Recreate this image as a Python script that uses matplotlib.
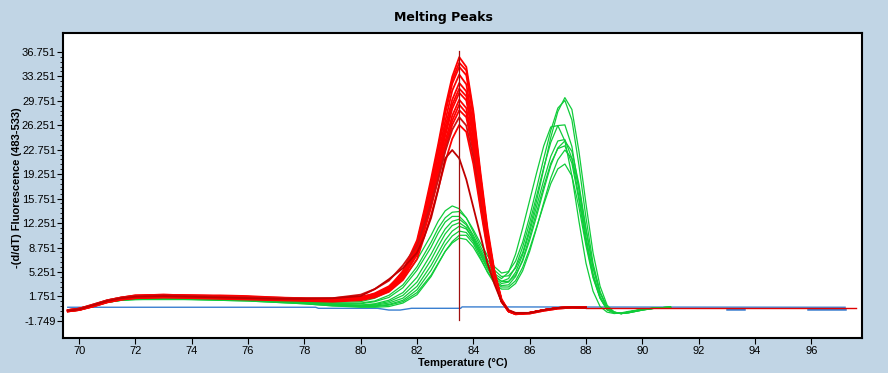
import matplotlib
matplotlib.use("Agg")
import matplotlib.pyplot as plt
import numpy as np

# temperatures (deg C) the red curves were read at
red_t = [69.6, 70.0, 70.5, 71.0, 71.5, 72.0, 73.0, 74.0, 75.0, 76.0, 77.0, 78.0, 79.0, 80.0,
         80.5, 81.0, 81.5, 82.0, 82.25, 82.5, 82.75, 83.0, 83.25, 83.5, 83.75, 84.0, 84.25,
         84.5, 84.75, 85.0, 85.25, 85.5, 86.0, 86.5, 87.0, 87.5, 88.0]

red_curves = [
    [-0.3,-0.1,0.5,1.1,1.5,1.8,1.9,1.8,1.7,1.6,1.5,1.4,1.3,1.5, 2.0,3.0,5.4,9.8,14.0,18.6,23.5,28.8,33.2,36.0,34.6,28.3,19.6,11.6,5.4,1.4,-0.3,-0.7,-0.6,-0.2,0.1,0.2,0.15],
    [-0.2,0.0,0.6,1.2,1.6,1.9,2.0,1.9,1.9,1.8,1.6,1.5,1.4,1.7, 2.1,3.0,5.2,9.3,13.5,18.0,23.0,28.3,32.7,35.2,34.1,27.8,19.0,11.0,5.1,1.2,-0.3,-0.7,-0.6,-0.2,0.1,0.2,0.15],
    [-0.3,-0.1,0.5,1.1,1.5,1.7,1.8,1.8,1.7,1.5,1.4,1.3,1.2,1.4, 1.9,2.9,5.1,9.4,13.6,17.9,22.7,27.9,32.2,34.6,33.4,27.4,18.9,11.0,5.1,1.2,-0.3,-0.7,-0.6,-0.2,0.1,0.2,0.15],
    [-0.4,-0.2,0.3,0.9,1.3,1.6,1.7,1.6,1.5,1.4,1.3,1.2,1.1,1.3, 1.8,2.7,4.9,9.0,12.9,17.2,21.9,26.8,31.2,33.5,32.1,26.3,18.2,10.6,4.9,1.2,-0.4,-0.8,-0.7,-0.3,0.0,0.15,0.15],
    [-0.3,-0.1,0.4,1.0,1.4,1.7,1.8,1.7,1.6,1.5,1.4,1.3,1.2,1.4, 1.9,2.8,4.8,8.7,12.5,16.6,21.1,26.0,29.9,32.3,31.1,25.5,17.6,10.3,4.8,1.2,-0.3,-0.7,-0.6,-0.2,0.1,0.2,0.15],
    [-0.2,0.0,0.5,1.1,1.5,1.8,1.9,1.8,1.7,1.6,1.5,1.4,1.3,1.5, 2.0,2.9,4.8,8.6,12.2,16.2,20.6,25.3,29.2,31.5,30.4,24.9,17.2,10.1,4.7,1.1,-0.3,-0.7,-0.6,-0.2,0.1,0.2,0.15],
    [-0.2,0.0,0.5,1.1,1.5,1.8,1.9,1.9,1.8,1.7,1.6,1.4,1.3,1.5, 2.0,2.8,4.7,8.4,11.9,15.8,20.1,24.7,28.6,30.9,29.8,24.4,16.8,9.9,4.6,1.1,-0.3,-0.7,-0.6,-0.2,0.1,0.2,0.15],
    [-0.4,-0.2,0.4,1.0,1.4,1.6,1.7,1.7,1.6,1.4,1.3,1.2,1.1,1.4, 1.8,2.6,4.5,8.1,11.5,15.2,19.4,23.9,27.6,29.9,28.7,23.5,16.3,9.5,4.5,1.1,-0.4,-0.8,-0.7,-0.3,0.0,0.15,0.15],
    [-0.3,-0.1,0.5,1.2,1.6,1.9,2.0,1.9,1.8,1.7,1.5,1.4,1.3,1.6, 2.2,3.2,5.1,7.9,11.2,14.9,18.9,23.3,26.9,29.2,28.0,23.0,15.9,9.3,4.4,1.1,-0.3,-0.7,-0.6,-0.2,0.1,0.2,0.15],
    [-0.3,-0.1,0.4,1.0,1.3,1.5,1.6,1.6,1.5,1.4,1.3,1.2,1.1,1.3, 1.7,2.5,4.4,7.7,11.0,14.5,18.5,22.7,26.3,28.4,27.4,22.4,15.5,9.1,4.3,1.0,-0.4,-0.8,-0.6,-0.2,0.1,0.2,0.15],
    [-0.2,0.0,0.6,1.2,1.6,1.8,1.9,1.8,1.7,1.6,1.5,1.5,1.5,2.0, 2.8,4.0,6.2,9.0,12.0,15.0,18.5,22.5,25.6,27.4,26.2,21.6,14.9,8.8,4.1,1.0,-0.4,-0.7,-0.6,-0.2,0.1,0.2,0.15],
    [-0.4,-0.2,0.3,0.9,1.3,1.5,1.6,1.5,1.4,1.3,1.2,1.1,1.0,1.2, 1.6,2.4,4.1,7.1,10.2,13.4,17.1,21.0,24.3,26.3,25.3,20.7,14.4,8.4,4.0,1.0,-0.4,-0.7,-0.6,-0.2,0.1,0.2,0.15],
    [-0.3,-0.1,0.5,1.1,1.5,1.7,1.8,1.7,1.6,1.5,1.4,1.4,1.5,1.8, 2.8,4.2,5.8,8.0,10.2,13.0,17.0,21.5,22.7,21.5,18.5,14.5,10.5,6.5,3.5,1.0,-0.2,-0.6,-0.6,-0.2,0.1,0.2,0.15],
]
red_colors = ["#ff0000"] * 10 + ["#d01010", "#ff0000", "#c00000"]

# temperatures the green curves were read at
green_t = [69.6, 70.0, 70.5, 71.0, 71.5, 72.0, 73.0, 74.0, 75.0, 76.0, 77.0, 78.0, 79.0, 80.0,
           80.5, 81.0, 81.5, 82.0, 82.5, 82.75, 83.0, 83.25, 83.5, 83.75, 84.0, 84.25, 84.5,
           84.75, 85.0, 85.25, 85.5, 85.75, 86.0, 86.25, 86.5, 86.75, 87.0, 87.25, 87.5, 87.75,
           88.0, 88.25, 88.5, 88.75, 89.0, 89.25, 89.5, 90.0, 90.5, 91.0]

green_curves = [
    [-0.3,-0.1,0.5,1.1,1.4,1.6,1.6,1.6,1.5,1.4,1.3,1.1,0.9,1.0, 1.5,2.5,4.2,7.0,10.5,12.5,14.0,14.7,14.3,13.0,11.0,8.9,7.0,5.5,4.6,4.7,5.8,8.0,11.5,15.5,20.0,24.5,28.2,30.2,28.5,22.5,15.0,8.0,3.2,0.5,-0.5,-0.7,-0.6,-0.2,0.1,0.2],
    [-0.4,-0.2,0.4,1.0,1.3,1.5,1.5,1.5,1.4,1.3,1.2,1.0,0.8,0.8, 1.1,1.9,3.4,6.0,9.5,11.5,13.0,13.8,13.9,13.0,11.3,9.4,7.6,6.0,5.1,5.3,6.8,9.5,13.2,17.3,21.5,25.5,28.7,29.8,27.0,20.5,13.0,6.5,2.4,0.2,-0.5,-0.7,-0.5,-0.15,0.1,0.2],
    [-0.3,-0.1,0.5,1.0,1.3,1.5,1.6,1.5,1.4,1.3,1.2,1.0,0.7,0.7, 1.0,1.6,3.0,5.5,8.8,10.8,12.4,13.2,13.2,12.2,10.5,8.5,6.6,5.0,4.3,5.2,7.8,11.5,15.5,19.5,23.3,26.0,26.2,24.0,19.0,12.5,6.5,2.5,0.3,-0.5,-0.7,-0.6,-0.4,-0.1,0.1,0.2],
    [-0.4,-0.2,0.4,0.9,1.2,1.4,1.5,1.4,1.4,1.3,1.1,0.9,0.6,0.5, 0.7,1.2,2.3,4.5,7.8,9.7,11.4,12.5,12.8,12.0,10.2,8.2,6.3,4.7,3.9,4.3,6.0,8.8,12.3,16.2,20.2,23.8,26.2,26.3,23.2,17.0,10.3,5.0,1.7,-0.1,-0.6,-0.7,-0.5,-0.1,0.1,0.2],
    [-0.3,-0.1,0.5,1.0,1.3,1.5,1.5,1.5,1.3,1.2,1.1,0.9,0.6,0.5, 0.6,1.0,1.9,3.8,7.0,8.9,10.7,11.9,12.3,11.6,9.8,7.8,5.9,4.4,3.6,3.8,5.2,7.7,11.0,14.7,18.4,21.8,24.0,24.2,21.5,16.0,9.8,4.8,1.6,-0.1,-0.6,-0.7,-0.5,-0.1,0.1,0.2],
    [-0.4,-0.2,0.3,0.9,1.2,1.4,1.4,1.4,1.3,1.2,1.0,0.8,0.5,0.4, 0.5,0.8,1.5,3.2,6.2,8.0,9.8,11.1,11.8,11.4,10.0,8.1,6.2,4.7,3.9,3.9,4.8,6.8,9.8,13.3,17.0,20.5,23.0,24.0,22.5,17.8,11.5,6.0,2.3,0.2,-0.5,-0.7,-0.6,-0.2,0.1,0.2],
    [-0.3,-0.1,0.4,1.0,1.3,1.4,1.5,1.4,1.3,1.2,1.0,0.8,0.5,0.3, 0.4,0.6,1.2,2.7,5.5,7.3,9.1,10.4,11.1,10.9,9.6,7.7,5.7,4.1,3.3,3.4,4.6,7.0,10.3,13.9,17.5,20.8,22.9,23.3,20.8,15.5,9.5,4.6,1.5,-0.2,-0.6,-0.7,-0.5,-0.1,0.1,0.2],
    [-0.4,-0.2,0.3,0.9,1.2,1.3,1.4,1.3,1.2,1.1,0.9,0.7,0.4,0.2, 0.2,0.3,0.8,2.0,4.6,6.4,8.2,9.6,10.5,10.5,9.3,7.3,5.2,3.6,2.8,2.8,3.6,5.4,8.2,11.6,15.2,18.7,21.3,22.7,21.5,17.3,11.2,5.8,2.2,0.2,-0.5,-0.7,-0.6,-0.2,0.1,0.2],
    [-0.3,-0.1,0.4,1.0,1.2,1.3,1.3,1.3,1.2,1.1,0.9,0.7,0.4,0.3, 0.3,0.5,1.0,2.3,4.8,6.5,8.2,9.4,10.1,9.9,8.8,7.1,5.3,3.9,3.1,3.1,4.0,5.9,8.6,11.7,14.9,17.9,20.0,20.7,19.0,14.5,9.0,4.4,1.5,-0.1,-0.6,-0.7,-0.5,-0.1,0.1,0.2],
]

# flat negative-control trace and the red trace beyond the peaks
blue_t = [69.6, 78.4, 78.5, 80.6, 81.0, 81.4, 81.8, 83.55, 83.6, 97.2]
blue_v = [0.2, 0.2, 0.05, 0.05, -0.2, -0.2, 0.05, 0.05, 0.25, 0.2]
blue_low_t = [93.0, 93.6, np.nan, 95.9, 97.2]
blue_low_v = [0.0, 0.0, np.nan, 0.0, 0.0]
red_tail_t = [88.0, 97.6]
red_tail_v = [0.15, 0.15]

cursor_t = 83.5
cursor_range = [-1.6, 36.9]

x_ticks = [70, 72, 74, 76, 78, 80, 82, 84, 86, 88, 90, 92, 94, 96]
y_ticks = [-1.749, 1.751, 5.251, 8.751, 12.251, 15.751, 19.251, 22.751, 26.251, 29.751, 33.251, 36.751]
y_labels = ["-1.749", "1.751", "5.251", "8.751", "12.251", "15.751", "19.251", "22.751",
            "26.251", "29.751", "33.251", "36.751"]

bg = "#c1d5e5"
fig = plt.figure(figsize=(8.88, 3.73), dpi=100, facecolor=bg)
ax = fig.add_axes([63/888, 1-338/373, 799/888, 305/373])
ax.set_facecolor("white")

ax.plot(blue_t, blue_v, color="#3a7fd0", lw=1.0)
ax.plot(blue_low_t, blue_low_v, color="#3a7fd0", lw=1.8)
for yv in green_curves:
    ax.plot(green_t, yv, color="#10cc3a", lw=0.9)
ax.plot(red_tail_t, red_tail_v, color="#e00000", lw=1.0)
for yv, c in zip(red_curves, red_colors):
    ax.plot(red_t, yv, color=c, lw=1.3)
ax.plot([cursor_t, cursor_t], cursor_range, color="#a01010", lw=0.9)

ax.set_xlim(69.43, 97.8)
ax.set_ylim(-4.2, 39.45)
ax.set_xticks(x_ticks)
ax.set_xticklabels([str(v) for v in x_ticks])
ax.set_yticks(y_ticks)
ax.set_yticklabels(y_labels)
ax.set_yticks([v + 0.7 * k for v in y_ticks[:-1] for k in range(1, 5)], minor=True)
ax.tick_params(axis="both", which="major", length=4, width=0.8, labelsize=8, pad=1)
ax.tick_params(axis="x", which="major", pad=2)
ax.tick_params(axis="y", which="minor", length=2, width=0.6)
for lab in ax.get_xticklabels() + ax.get_yticklabels():
    lab.set_fontfamily("Liberation Sans")
for s in ax.spines.values():
    s.set_linewidth(1.5)

fig.text(0.499, 0.952, "Melting Peaks", ha="center", va="center",
         fontsize=9, fontweight="bold", family="DejaVu Sans")
fig.text(0.521, 0.026, "Temperature (°C)", ha="center", va="center",
         fontsize=8, fontweight="bold", family="Liberation Sans")
fig.text(0.0195, 0.497, "-(d/dT) Fluorescence (483-533)", ha="center", va="center",
         rotation=90, fontsize=8, fontweight="bold", family="Liberation Sans")

fig.savefig("out.png", dpi=100, facecolor=bg)
